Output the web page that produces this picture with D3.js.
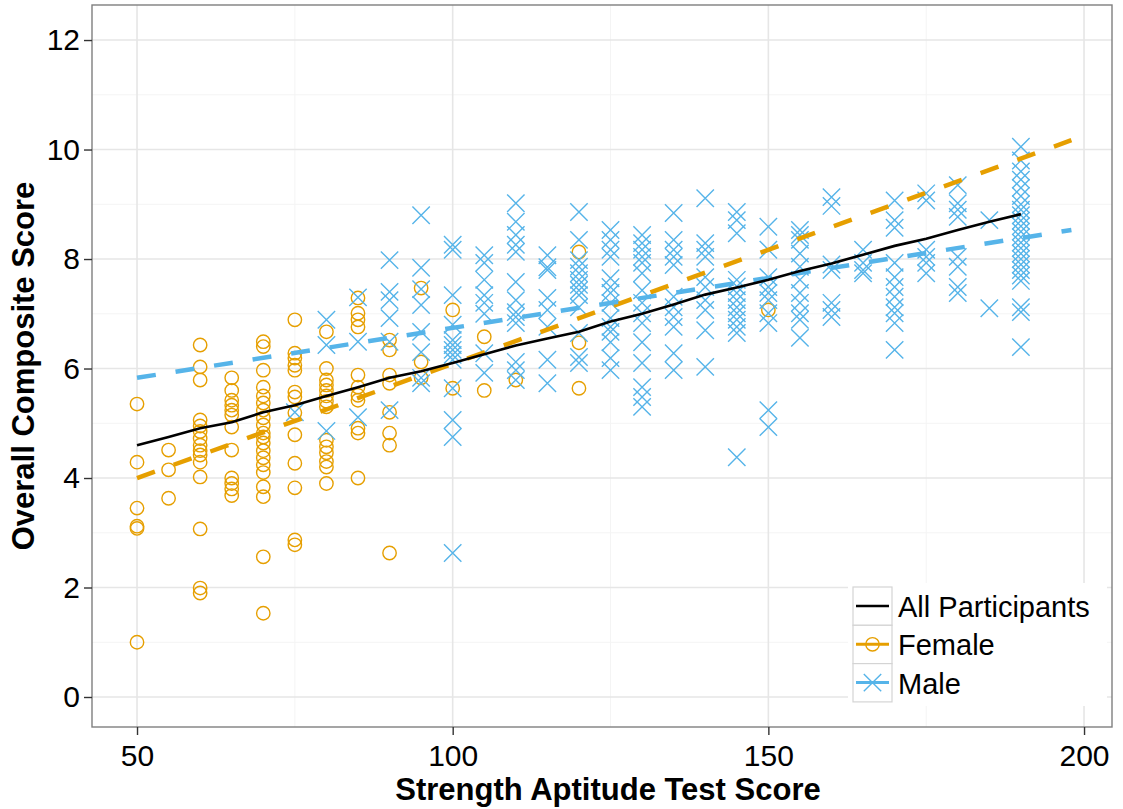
<!DOCTYPE html>
<html>
<head>
<meta charset="utf-8">
<script src="https://cdn.jsdelivr.net/npm/d3@7"></script>
<style>
  body { margin:0; background:#fff; }
  svg { font-family: "Liberation Sans", Arial, sans-serif; }
</style>
</head>
<body>
<div id="chart"></div>
<script>
// scores, one group per test score column
var femaleCols = [
  [50, [5.35, 4.29, 3.45, 3.12, 3.08, 1.0]],
  [55, [4.51, 4.15, 3.63]],
  [60, [6.43, 6.03, 5.79, 5.06, 4.95, 4.85, 4.72, 4.6, 4.5, 4.42, 4.29, 4.02, 3.07, 1.99, 1.9]],
  [65, [5.83, 5.6, 5.42, 5.33, 5.24, 5.15, 4.93, 4.51, 4.0, 3.9, 3.8, 3.68]],
  [70, [6.49, 6.4, 5.97, 5.66, 5.5, 5.37, 5.24, 5.1, 4.97, 4.82, 4.75, 4.64, 4.5, 4.37, 4.24, 4.1, 3.84, 3.66, 2.56, 1.53]],
  [75, [6.89, 6.28, 6.19, 6.06, 5.97, 5.57, 5.48, 5.19, 4.79, 4.27, 3.82, 2.87, 2.78]],
  [80, [6.67, 6.0, 5.79, 5.7, 5.6, 5.5, 5.4, 5.3, 4.69, 4.57, 4.46, 4.3, 4.2, 3.9]],
  [85, [7.29, 7.01, 6.89, 6.76, 5.88, 5.66, 5.51, 5.42, 4.91, 4.82, 4.0]],
  [90, [6.52, 6.34, 5.88, 5.73, 5.2, 4.82, 4.6, 2.63]],
  [95, [7.47, 6.12, 5.83]],
  [100, [7.07, 5.64]],
  [105, [6.58, 5.6]],
  [110, [5.79]],
  [120, [8.13, 6.47, 5.64]],
  [150, [7.07]]
];

var maleCols = [
  [75, [5.2]],
  [80, [6.89, 6.43, 4.86]],
  [85, [7.3, 6.49, 5.11]],
  [90, [7.98, 7.4, 7.25, 6.92, 6.49, 5.24]],
  [95, [8.8, 7.84, 7.45, 7.16, 6.67, 6.3, 5.83, 5.73]],
  [100, [8.26, 8.17, 7.34, 6.8, 6.52, 6.43, 6.34, 6.25, 6.16, 5.64, 5.06, 4.75, 2.63]],
  [105, [8.07, 7.93, 7.62, 7.34, 7.2, 7.0, 6.28, 5.92]],
  [110, [9.02, 8.68, 8.44, 8.26, 8.13, 7.58, 7.25, 7.03, 6.94, 6.83, 6.12, 5.97, 5.79]],
  [115, [8.07, 7.85, 7.8, 7.29, 7.07, 6.76, 6.16, 5.73]],
  [120, [8.86, 8.35, 7.98, 7.86, 7.74, 7.62, 7.53, 7.43, 7.34, 7.12, 6.65, 6.21, 6.1]],
  [125, [8.53, 8.35, 8.17, 8.04, 7.65, 7.49, 7.38, 7.2, 6.92, 6.76, 6.67, 6.48, 6.19, 5.97]],
  [130, [8.44, 8.29, 8.17, 8.04, 7.93, 7.74, 7.43, 7.2, 7.01, 6.83, 6.48, 6.1, 5.66, 5.48, 5.3]],
  [135, [8.84, 8.35, 8.17, 8.04, 7.89, 7.31, 7.12, 6.94, 6.76, 6.28, 5.97]],
  [140, [9.11, 8.29, 8.17, 8.04, 7.67, 7.49, 7.25, 7.07, 6.7, 6.03]],
  [145, [8.86, 8.71, 8.47, 7.62, 7.5, 7.38, 7.25, 7.12, 7.01, 6.89, 6.76, 6.65, 4.38]],
  [150, [8.59, 8.17, 7.67, 7.49, 7.38, 7.25, 7.01, 6.83, 5.24, 4.93]],
  [155, [8.53, 8.44, 8.35, 8.1, 7.86, 7.62, 7.38, 7.2, 7.01, 6.89, 6.56]],
  [160, [9.13, 8.97, 7.9, 7.8, 7.2, 7.07, 6.94]],
  [165, [8.17, 7.93, 7.8, 7.74]],
  [170, [9.07, 8.71, 8.57, 7.93, 7.67, 7.49, 7.31, 7.12, 7.01, 6.83, 6.34]],
  [175, [9.2, 9.07, 8.17, 8.04, 7.93, 7.74]],
  [180, [9.35, 9.02, 8.9, 8.77, 8.04, 7.86, 7.49, 7.38]],
  [185, [8.71, 7.1]],
  [190, [10.05, 9.8, 9.6, 9.45, 9.3, 9.15, 9.0, 8.9, 8.8, 8.7, 8.6, 8.5, 8.4, 8.3, 8.2, 8.1, 8.0, 7.9, 7.8, 7.7, 7.6, 7.12, 7.03, 6.39]]
];

// smoothed line for everybody, and the two straight fits
var allFit = [[50,4.6],[55,4.75],[60,4.91],[65,5.02],[70,5.2],[75,5.33],[80,5.5],[85,5.66],[90,5.83],[95,5.95],
              [100,6.1],[105,6.26],[110,6.42],[115,6.55],[120,6.67],[125,6.86],[130,7.0],[135,7.17],[140,7.35],
              [145,7.48],[150,7.62],[155,7.78],[160,7.92],[165,8.08],[170,8.24],[175,8.37],[180,8.53],[185,8.68],[190,8.82]];
var femaleFit = [[50,4.0],[198,10.17]];
var maleFit = [[50,5.83],[198,8.53]];

var xTicks = [50,100,150,200];
var xMinor = [75,125,175];
var yTicks = [0,2,4,6,8,10,12];
var yMinor = [1,3,5,7,9,11];
var legendLabels = ["All Participants","Female","Male"];

var orange="#E69F00", blue="#56B4E9";
var width=1123, height=809;
var pLeft=92, pRight=1112, pTop=5, pBottom=727;

var x_scale=d3.scaleLinear().domain([42.87,204.43]).range([pLeft,pRight]);
var y_scale=d3.scaleLinear().domain([-0.548,12.64]).range([pBottom,pTop]);

var svg=d3.select("#chart").append("svg").attr("width",width).attr("height",height);

// grid
var grid=svg.append("g");
xMinor.forEach(function(v){
  grid.append("line").attr("x1",x_scale(v)).attr("x2",x_scale(v)).attr("y1",pTop).attr("y2",pBottom)
      .attr("stroke","#f4f4f4").attr("stroke-width",1);
});
yMinor.forEach(function(v){
  grid.append("line").attr("x1",pLeft).attr("x2",pRight).attr("y1",y_scale(v)).attr("y2",y_scale(v))
      .attr("stroke","#f4f4f4").attr("stroke-width",1);
});
xTicks.forEach(function(v){
  grid.append("line").attr("x1",x_scale(v)).attr("x2",x_scale(v)).attr("y1",pTop).attr("y2",pBottom)
      .attr("stroke","#e6e6e6").attr("stroke-width",1.6);
});
yTicks.forEach(function(v){
  grid.append("line").attr("x1",pLeft).attr("x2",pRight).attr("y1",y_scale(v)).attr("y2",y_scale(v))
      .attr("stroke","#e6e6e6").attr("stroke-width",1.6);
});

// points
var plot=svg.append("g");
femaleCols.forEach(function(c){
  c[1].forEach(function(v){
    plot.append("circle").attr("cx",x_scale(c[0])).attr("cy",y_scale(v)).attr("r",6.7)
        .attr("fill","none").attr("stroke",orange).attr("stroke-width",1.4);
  });
});
function cross(g,cx,cy,s){
  g.append("path").attr("d","M"+(cx-s)+","+(cy-s)+"L"+(cx+s)+","+(cy+s)+"M"+(cx-s)+","+(cy+s)+"L"+(cx+s)+","+(cy-s))
   .attr("stroke",blue).attr("stroke-width",1.4).attr("fill","none");
}
maleCols.forEach(function(c){
  c[1].forEach(function(v){ cross(plot,x_scale(c[0]),y_scale(v),8.7); });
});

// fitted lines
var line=d3.line().x(function(d){return x_scale(d[0]);}).y(function(d){return y_scale(d[1]);});
svg.append("path").attr("d",line(femaleFit)).attr("fill","none").attr("stroke",orange)
   .attr("stroke-width",4.5).attr("stroke-dasharray","19,20");
svg.append("path").attr("d",line(maleFit)).attr("fill","none").attr("stroke",blue)
   .attr("stroke-width",4.5).attr("stroke-dasharray","19,20");
svg.append("path").attr("d",line(allFit)).attr("fill","none").attr("stroke","black")
   .attr("stroke-width",2.6);

// panel border
svg.append("rect").attr("x",pLeft).attr("y",pTop).attr("width",pRight-pLeft).attr("height",pBottom-pTop)
   .attr("fill","none").attr("stroke","#7f7f7f").attr("stroke-width",1.4);

// axes
var xAxis=svg.append("g").attr("transform","translate(0,"+pBottom+")")
   .call(d3.axisBottom(x_scale).tickValues(xTicks).tickSize(8).tickPadding(10));
var yAxis=svg.append("g").attr("transform","translate("+pLeft+",0)")
   .call(d3.axisLeft(y_scale).tickValues(yTicks).tickSize(8).tickPadding(4));
[xAxis,yAxis].forEach(function(a){
  a.select(".domain").remove();
  a.selectAll(".tick line").attr("stroke","#333").attr("stroke-width",1.4);
  a.selectAll(".tick text").attr("fill","#000").style("font-size","30px")
   .style("font-family","'Liberation Sans', Arial, sans-serif");
});

svg.append("text").attr("x",608).attr("y",800).attr("text-anchor","middle")
   .style("font-size","31px").style("font-weight","bold").text("Strength Aptitude Test Score");
svg.append("text").attr("transform","translate(34,366) rotate(-90)").attr("text-anchor","middle")
   .style("font-size","31px").style("font-weight","bold").text("Overall Composite Score");

// legend
var lg=svg.append("g");
lg.append("rect").attr("x",848).attr("y",583).attr("width",259).attr("height",123).attr("fill","white");
legendLabels.forEach(function(lab,i){
  var y0=587+i*38.3;
  lg.append("rect").attr("x",853).attr("y",y0).attr("width",39).attr("height",38.3)
    .attr("fill","white").attr("stroke","#d4d4d4").attr("stroke-width",1.2);
  var cy=y0+19;
  var col=i==0?"black":(i==1?orange:blue);
  lg.append("line").attr("x1",856).attr("x2",889).attr("y1",cy).attr("y2",cy)
    .attr("stroke",col).attr("stroke-width",i==0?2.6:3);
  if (i==1) lg.append("circle").attr("cx",872.5).attr("cy",cy).attr("r",6.7)
    .attr("fill","none").attr("stroke",orange).attr("stroke-width",1.4);
  if (i==2) cross(lg,872.5,cy,8.7);
  lg.append("text").attr("x",898).attr("y",cy+11).style("font-size","29px").attr("fill","black").text(lab);
});
</script>
</body>
</html>
